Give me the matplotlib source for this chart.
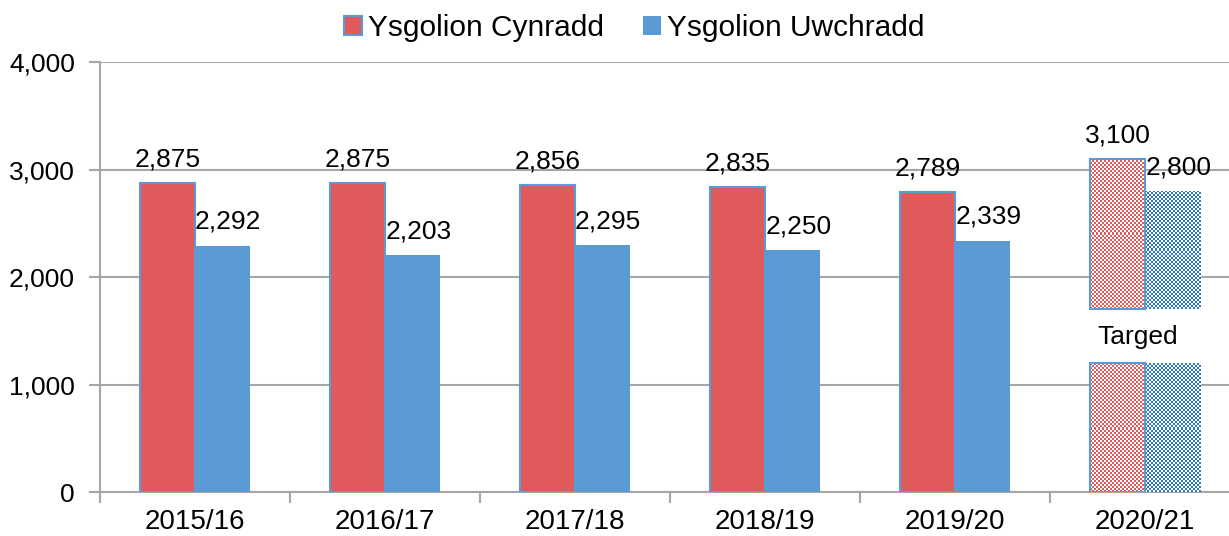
import numpy as np
import matplotlib
matplotlib.use("Agg")
import matplotlib.pyplot as plt
from matplotlib.colors import to_rgb
from matplotlib.patches import Patch

# data
years = ["2015/16", "2016/17", "2017/18", "2018/19", "2019/20", "2020/21"]
cynradd = [2875, 2875, 2856, 2835, 2789, 3100]
uwchradd = [2292, 2203, 2295, 2250, 2339, 2800]
is_target = [False, False, False, False, False, True]
target_gap = (1200, 1700)   # break in the target bars, "Targed" written inside
target_label = "Targed"

RED = "#E05A5C"
BLUE = "#5B9BD5"
BLUE_DARK = "#2A78C6"
GRID = "#A6A6A6"

plt.rcParams["font.family"] = ["Liberation Sans", "DejaVu Sans"]

fig = plt.figure(figsize=(12.29, 5.36), dpi=100)
# plot area runs a little past the right edge of the figure, as in the original
ax = fig.add_axes([100 / 1229, 0.082, 1140 / 1229, 0.802])

x = np.arange(len(years))
w = 0.29
ax.set_xlim(-0.5, len(years) - 0.5)
ax.set_ylim(0, 4000)


def checker(color, nx, ny):
    c = np.array(to_rgb(color))
    img = np.ones((ny, nx, 3))
    mask = (np.add.outer(np.arange(ny), np.arange(nx)) % 2) == 0
    img[mask] = c
    return img


def checker_bar(xc, y0, y1, color, edge=None):
    patch = plt.Rectangle((xc - w / 2, y0), w, y1 - y0, facecolor="none",
                          edgecolor=edge if edge else "none", linewidth=1.5, zorder=4)
    ax.add_patch(patch)
    (px0, py0), (px1, py1) = ax.transData.transform([(xc - w / 2, y0), (xc + w / 2, y1)])
    nx = max(int(round(abs(px1 - px0) / 2)), 1)
    ny = max(int(round(abs(py1 - py0) / 2)), 1)
    im = ax.imshow(checker(color, nx, ny), extent=(xc - w / 2, xc + w / 2, y0, y1),
                   aspect="auto", interpolation="nearest", zorder=3)
    im.set_clip_path(patch)


for i in range(len(years)):
    xr, xb = x[i] - w / 2, x[i] + w / 2
    if not is_target[i]:
        ax.bar(xr, cynradd[i], w, color=RED, edgecolor=BLUE, linewidth=1.5, zorder=3)
        ax.bar(xb, uwchradd[i], w, color=BLUE, zorder=3)
    else:
        lo, hi = target_gap
        checker_bar(xr, 0, lo, RED, edge=BLUE)
        checker_bar(xr, hi, cynradd[i], RED, edge=BLUE)
        checker_bar(xb, 0, lo, BLUE_DARK)
        checker_bar(xb, hi, uwchradd[i], BLUE_DARK)
        ax.text(x[i] - 0.04, (lo + hi) / 2 - 10, target_label, ha="center", va="center",
                fontsize=19, zorder=5)
    ax.text(xr, cynradd[i] + 110, f"{cynradd[i]:,}", ha="center", va="bottom",
            fontsize=19, zorder=5)
    ax.text(xb + 0.03, uwchradd[i] + 110, f"{uwchradd[i]:,}", ha="center", va="bottom",
            fontsize=19, zorder=5)

ax.set_xlim(-0.5, len(years) - 0.5)
ax.set_ylim(0, 4000)

ax.set_yticks(np.arange(0, 4001, 1000))
ax.set_yticklabels([f"{v:,}" for v in range(0, 4001, 1000)], fontsize=19)
ax.set_xticks(x)
ax.set_xticklabels(years, fontsize=20)
ax.set_xticks(np.arange(-0.5, len(years)), minor=True)
ax.tick_params(axis="x", which="major", length=0, pad=12)
ax.tick_params(axis="x", which="minor", length=8, color=GRID, width=1.5)
ax.tick_params(axis="y", length=8, color=GRID, width=1.5, pad=10)

ax.yaxis.grid(True, color=GRID, linewidth=1.5, zorder=0)
ax.set_axisbelow(True)
for s in ["top", "right"]:
    ax.spines[s].set_visible(False)
for s in ["left", "bottom"]:
    ax.spines[s].set_color(GRID)
    ax.spines[s].set_linewidth(1.5)

handles = [Patch(facecolor=RED, edgecolor=BLUE, linewidth=1.5),
           Patch(facecolor=BLUE)]
fig.legend(handles, ["Ysgolion Cynradd", "Ysgolion Uwchradd"], loc="center",
           bbox_to_anchor=(0.516, 0.948), ncol=2, frameon=False, fontsize=21.5,
           handlelength=0.6, handleheight=0.6, handletextpad=0.2, columnspacing=1.3)

fig.savefig("out.png", dpi=100)
